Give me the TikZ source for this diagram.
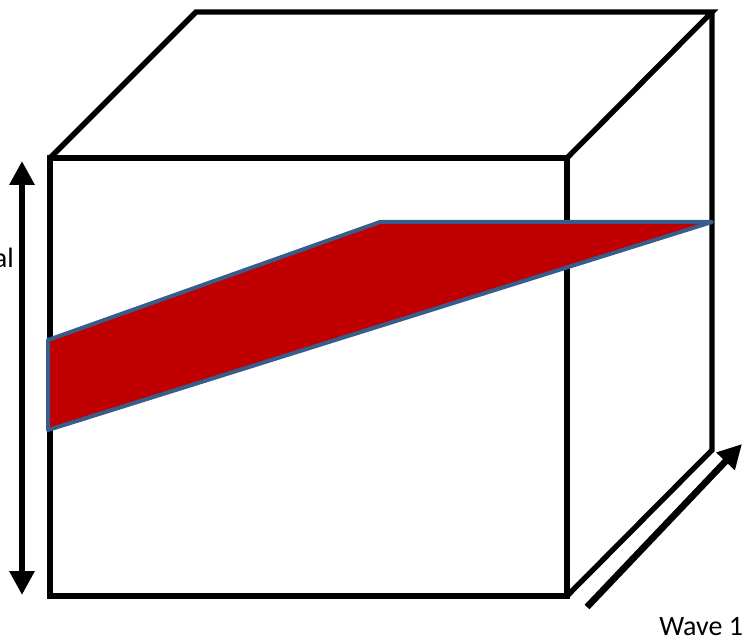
\documentclass[tikz,border=0pt]{standalone}
\usepackage{fontspec}
\setmainfont{Carlito}
\usetikzlibrary{arrows.meta}
\definecolor{slabred}{RGB}{192,0,0}
\definecolor{slabedge}{RGB}{56,93,138}
\begin{document}
\begin{tikzpicture}[x=0.75pt,y=0.75pt,
  cubeedge/.style={draw=black,line width=4pt},
  slab/.style={fill=slabred,draw=slabedge,line width=3pt,line join=round},
  bigarrow/.style={draw=black,line width=5pt,-{Triangle[length=18pt,width=18pt]}},
  lbl/.style={font=\fontsize{21}{25}\selectfont,inner sep=0pt}]
\clip (0,0) rectangle (752,639);
% cube: front face, top face, right face
\draw[cubeedge] (50,43) rectangle (567,481);
\draw[cubeedge] (50,481) -- (196,627) -- (712,627) -- (567,481);
\draw[cubeedge] (712,627) -- (712,189) -- (567,43);
% tilted slab inside the cube
\draw[slab] (48,299) -- (380,417) -- (712,417) -- (48,209) -- cycle;
% axes
\coordinate (sigbot) at (22,44);
\coordinate (sigtop) at (22,478);
\draw[bigarrow,{Triangle[length=18pt,width=18pt]}-{Triangle[length=18pt,width=18pt]}] (sigbot) -- (sigtop);
\node[lbl,anchor=base east] (signal) at (14,371) {Signal};
\coordinate (wavestart) at (587,32);
\coordinate (waveend) at (742,195);
\draw[bigarrow] (wavestart) -- (waveend);
\node[lbl,anchor=base west] (wave) at (659,4) {Wave 1};
\end{tikzpicture}
\end{document}
